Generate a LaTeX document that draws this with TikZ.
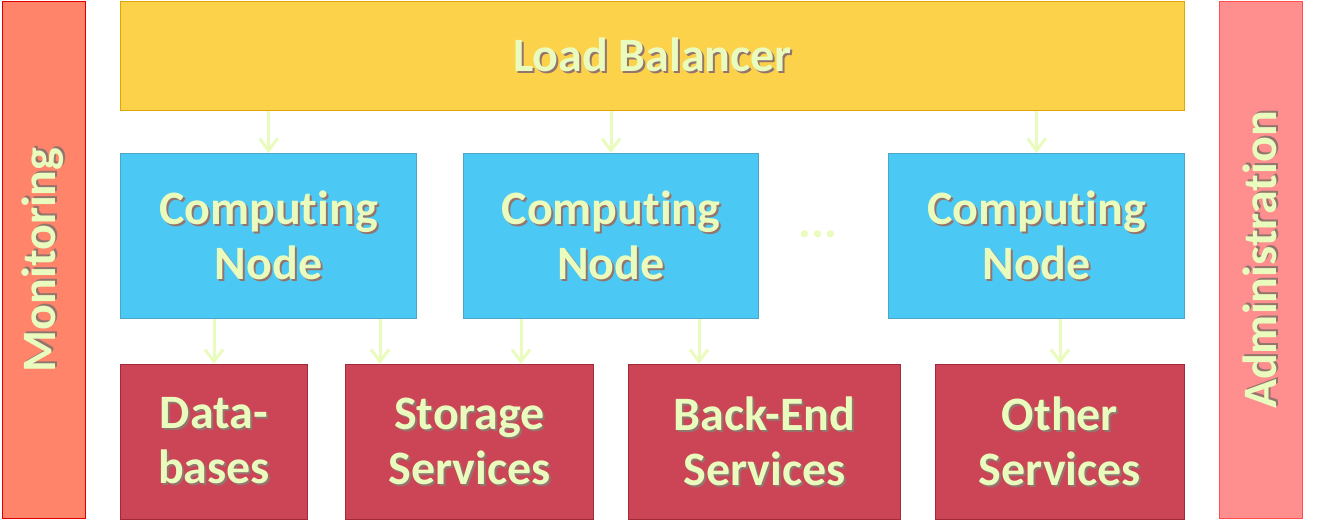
\documentclass[tikz,border=0pt]{standalone}
\usepackage{fontspec}
\setmainfont{Carlito}[Ligatures=NoCommon]
\usetikzlibrary{arrows.meta, positioning, calc}
\definecolor{lbFill}{HTML}{FDD24B}
\definecolor{lbLine}{HTML}{DDA600}
\definecolor{cnFill}{HTML}{4CC8F4}
\definecolor{cnLine}{HTML}{4AA6C6}
\definecolor{svFill}{HTML}{CB4557}
\definecolor{svLine}{HTML}{A22A3A}
\definecolor{monFill}{HTML}{FF846A}
\definecolor{monLine}{HTML}{E00000}
\definecolor{admFill}{HTML}{FF8F8F}
\definecolor{admLine}{HTML}{FF5050}
\definecolor{txtInk}{HTML}{EAFBBE}
\definecolor{txtShade}{HTML}{5A2A20}
% light text with a small drop shadow
\newcommand{\sh}[1]{\makebox[0pt][l]{\hspace{2pt}\raisebox{-2pt}{\color{txtShade!65}#1}}#1}

\begin{document}
\begin{tikzpicture}[
    x=1pt, y=-1pt,
    box/.style={line width=1pt, anchor=north west, align=center, inner sep=0pt,
                text=txtInk, font=\fontsize{48}{55}\selectfont\bfseries},
    lb/.style={box, fill=lbFill, draw=lbLine},
    cn/.style={box, fill=cnFill, draw=cnLine},
    sv/.style={box, fill=svFill, draw=svLine},
    side/.style={box, anchor=center, minimum width=517pt, minimum height=83pt, rotate=90},
    fw/.style={-{Straight Barb[length=12pt, width=18pt, line width=3pt]},
               line width=3pt, draw=txtInk},
  ]
  \useasboundingbox (0,0) rectangle (1321,529);

  % side bars
  \node[side, fill=monFill, draw=monLine] (mon) at (43.5,260) {\sh{Monitoring}};
  \node[side, fill=admFill, draw=admLine] (adm) at (1260.5,260) {\sh{Administration}};

  % load balancer
  \node[lb, minimum width=1064pt, minimum height=109pt] (lb) at (120,1) {\sh{Load Balancer}};

  % computing nodes
  \node[cn, minimum width=296pt, minimum height=165pt] (cn1) at (120,153) {\sh{Computing}\\\sh{Node}};
  \node[cn, minimum width=295pt, minimum height=165pt] (cn2) at (463,153) {\sh{Computing}\\\sh{Node}};
  \node[cn, minimum width=296pt, minimum height=165pt] (cn3) at (888,153) {\sh{Computing}\\\sh{Node}};
  \node[text=txtInk, font=\fontsize{48}{55}\selectfont\bfseries] (dots) at (818,234) {...};

  % services
  \node[sv, minimum width=187pt, minimum height=155pt] (db) at (120,364) {\sh{Data-}\\\sh{bases}};
  \node[sv, minimum width=248pt, minimum height=155pt] (st) at (345,364) {\sh{Storage}\\\sh{Services}};
  \node[sv, minimum width=272pt, minimum height=155pt] (be) at (628,364) {\sh{Back-End}\\\sh{Services}};
  \node[sv, minimum width=249pt, minimum height=155pt] (ot) at (935,364) {\sh{Other}\\\sh{Services}};

  % arrows
  \foreach \c in {cn1, cn2, cn3}
    \draw[fw] (lb.south -| \c.north) -- (\c.north);
  \coordinate (st1) at (380,364);
  \coordinate (st2) at (521,364);
  \coordinate (be2) at (699,364);
  \draw[fw] (cn1.south -| db.north) -- (db.north);
  \draw[fw] (cn1.south -| st1) -- (st1);
  \draw[fw] (cn2.south -| st2) -- (st2);
  \draw[fw] (cn2.south -| be2) -- (be2);
  \draw[fw] (cn3.south -| ot.north) -- (ot.north);
\end{tikzpicture}
\end{document}
